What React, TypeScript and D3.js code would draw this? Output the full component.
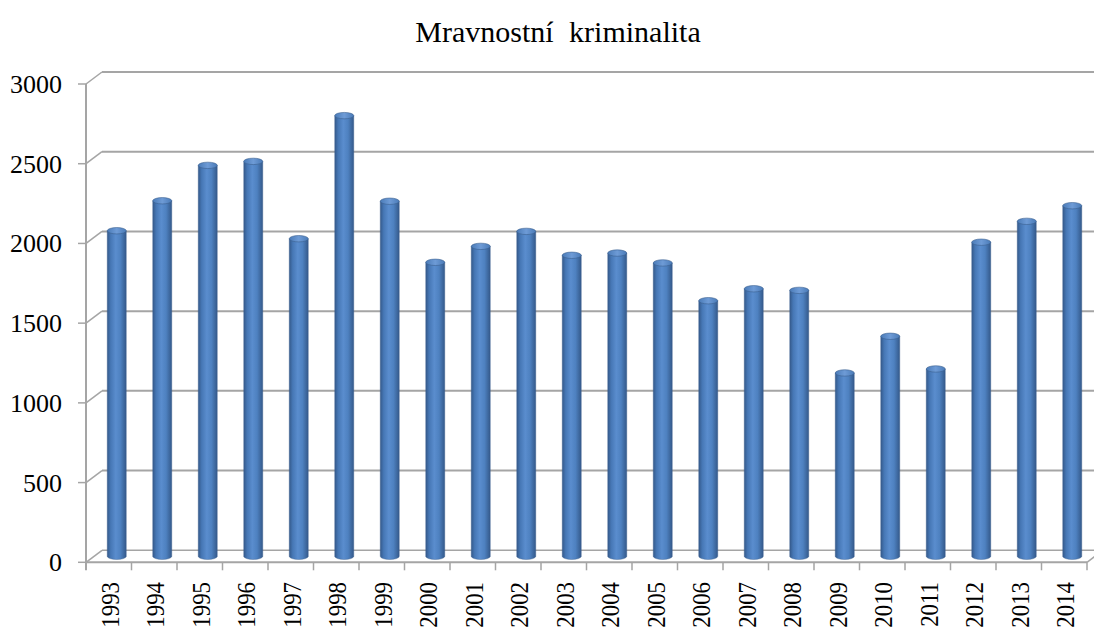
import React from 'react';
import * as d3 from 'd3';

const years = ['1993', '1994', '1995', '1996', '1997', '1998', '1999', '2000', '2001', '2002', '2003',
    '2004', '2005', '2006', '2007', '2008', '2009', '2010', '2011', '2012', '2013', '2014'];
const cases = [2042, 2230, 2452, 2477, 1992, 2764, 2227, 1844, 1944, 2038, 1888,
    1902, 1840, 1603, 1678, 1668, 1150, 1380, 1175, 1970, 2101, 2199];
const yTicks = [0, 500, 1000, 1500, 2000, 2500, 3000];
const title = 'Mravnostní kriminalita';

const W = 1094;
const H = 633;
// depth offset of the back wall (3d look)
const depth = { dx: 16, dy: -12 };

const App = () => {
    const x = d3.scaleBand().domain(years).range([86, 1087]).paddingInner(0).paddingOuter(0);
    const y = d3.scaleLinear().domain([0, 3000]).range([562.3, 84]);
    const bw = x.bandwidth();
    const r = 9.5; // cylinder radius
    const ry = 3.2;
    const gridColor = '#A5A5A5';

    return (
        <svg width={W} height={H} style={{ position: 'absolute', left: 0, top: 0, background: '#fff' }}
            fontFamily="'Liberation Serif', 'Times New Roman', serif">
            <defs>
                <linearGradient id="cyl" x1="0" x2="1" y1="0" y2="0">
                    <stop offset="0%" stopColor="#34598A" />
                    <stop offset="18%" stopColor="#4677B5" />
                    <stop offset="45%" stopColor="#5A8DCE" />
                    <stop offset="70%" stopColor="#4E81C0" />
                    <stop offset="100%" stopColor="#34598A" />
                </linearGradient>
                <linearGradient id="cylTop" x1="0" x2="1" y1="0" y2="0">
                    <stop offset="0%" stopColor="#4A7BB8" />
                    <stop offset="50%" stopColor="#6E9BD6" />
                    <stop offset="100%" stopColor="#4A7BB8" />
                </linearGradient>
            </defs>

            <text x={558} y={42} textAnchor="middle" fontSize={30} fill="#000"
                style={{ wordSpacing: '8px' }}>{title}</text>

            {/* back wall gridlines with diagonal joins */}
            {yTicks.map(t => (
                <g key={'g' + t}>
                    {t > 0 && (
                        <line x1={86 + depth.dx} x2={W} y1={y(t) + depth.dy} y2={y(t) + depth.dy}
                            stroke={gridColor} strokeWidth={2} />
                    )}
                    <line x1={86} x2={86 + depth.dx} y1={y(t)} y2={y(t) + depth.dy}
                        stroke={gridColor} strokeWidth={1.5} />
                    <line x1={78} x2={86} y1={y(t)} y2={y(t)} stroke={gridColor} strokeWidth={1.5} />
                    <text x={62} y={y(t) + 9} textAnchor="end" fontSize={26} fill="#000">{t}</text>
                </g>
            ))}

            {/* floor */}
            <line x1={86 + depth.dx} x2={W} y1={y(0) + depth.dy} y2={y(0) + depth.dy} stroke={gridColor} strokeWidth={1.5} />
            <line x1={86} x2={1087} y1={y(0)} y2={y(0)} stroke={gridColor} strokeWidth={2} />
            <line x1={1087} x2={1087 + depth.dx} y1={y(0)} y2={y(0) + depth.dy} stroke={gridColor} strokeWidth={1.5} />

            {/* front value axis */}
            <line x1={86} x2={86} y1={y(3000)} y2={y(0) + 8} stroke={gridColor} strokeWidth={2} />

            {/* category ticks */}
            {years.map(yr => (
                <line key={'t' + yr} x1={x(yr)! + bw} x2={x(yr)! + bw} y1={y(0)} y2={y(0) + 8}
                    stroke={gridColor} strokeWidth={1.5} />
            ))}

            {/* cylinders */}
            {years.map((yr, i) => {
                const cx = x(yr)! + bw / 2 + depth.dx / 2;
                const top = y(cases[i]) + depth.dy / 2;
                const bottom = y(0) + depth.dy / 2;
                return (
                    <g key={'b' + yr}>
                        <path d={`M${cx - r},${top} L${cx - r},${bottom} A${r},${ry} 0 0 0 ${cx + r},${bottom} L${cx + r},${top} Z`}
                            fill="url(#cyl)" stroke="#3A5F8F" strokeWidth={0.6} strokeOpacity={0.7} />
                        <ellipse cx={cx} cy={top} rx={r} ry={ry} fill="url(#cylTop)" stroke="#3A5F8F" strokeWidth={0.6} />
                    </g>
                );
            })}

            {/* year labels */}
            {years.map(yr => {
                const cx = x(yr)! + bw / 2;
                return (
                    <text key={'l' + yr} transform={`translate(${cx + 10},582) rotate(-90) scale(0.88,1)`} textAnchor="end"
                        fontSize={26} fill="#000">{yr}</text>
                );
            })}
        </svg>
    );
};

export default App;
